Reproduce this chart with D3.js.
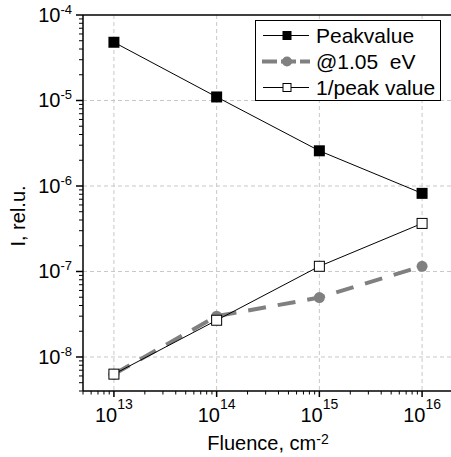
<!DOCTYPE html>
<html>
<head>
<meta charset="utf-8">
<script src="https://cdn.jsdelivr.net/npm/d3@7"></script>
<style>
  html, body { margin: 0; padding: 0; background: #fff; }
  svg { display: block; font-family: "Liberation Sans", Arial, sans-serif; }
</style>
</head>
<body>
<svg id="chart" width="451" height="457"></svg>
<script>
// Fluence values (cm^-2) and measured intensities (rel. u.)
const fluence = [1e13, 1e14, 1e15, 1e16];
const peakValue = [4.8e-5, 1.1e-5, 2.58e-6, 8.2e-7];
const at105eV = [6.3e-9, 3.0e-8, 4.95e-8, 1.15e-7];
const invPeak = [6.3e-9, 2.69e-8, 1.15e-7, 3.65e-7];
const seriesNames = ["Peakvalue", "@1.05  eV", "1/peak value"];
const xTickExps = [13, 14, 15, 16];
const yTickExps = [-8, -7, -6, -5, -4];

const svg = d3.select("#chart");
const W = 451, H = 457;
const plot = { left: 83, top: 15, right: 453, bottom: 391 };

const x = d3.scaleLog().domain([5e12, 2e16]).range([plot.left, plot.right]);
const y = d3.scaleLog().domain([4e-9, 1e-4]).range([plot.bottom, plot.top]);

// grid
const grid = svg.append("g").attr("stroke", "#c8c8c8").attr("stroke-width", 1)
  .attr("stroke-dasharray", "4,3");
xTickExps.forEach(e => {
  grid.append("line").attr("x1", x(Math.pow(10, e))).attr("x2", x(Math.pow(10, e)))
    .attr("y1", plot.top).attr("y2", plot.bottom);
});
yTickExps.filter(e => e < -4).forEach(e => {
  grid.append("line").attr("x1", plot.left).attr("x2", plot.right)
    .attr("y1", y(Math.pow(10, e))).attr("y2", y(Math.pow(10, e)));
});

// minor/major tick values
function logTicks(lo, hi) {
  const out = [];
  for (let e = Math.floor(Math.log10(lo)) - 1; e <= Math.ceil(Math.log10(hi)); e++) {
    for (let m = 1; m <= 9; m++) {
      const v = m * Math.pow(10, e);
      if (v >= lo * 0.999 && v <= hi * 1.001) out.push({ v, major: m === 1 });
    }
  }
  return out;
}

const axes = svg.append("g").attr("stroke", "#000");
// x ticks
logTicks(5e12, 2e16).forEach(t => {
  axes.append("line").attr("x1", x(t.v)).attr("x2", x(t.v))
    .attr("y1", plot.bottom).attr("y2", plot.bottom + (t.major ? 6 : 3.5))
    .attr("stroke-width", t.major ? 1.5 : 1);
});
// y ticks
logTicks(4e-9, 1e-4).forEach(t => {
  axes.append("line").attr("x1", plot.left).attr("x2", plot.left - (t.major ? 7 : 4))
    .attr("y1", y(t.v)).attr("y2", y(t.v))
    .attr("stroke-width", t.major ? 1.5 : 1);
});
// frame lines
axes.append("line").attr("x1", plot.left).attr("x2", plot.left)
  .attr("y1", plot.top).attr("y2", plot.bottom).attr("stroke-width", 1.5);
axes.append("line").attr("x1", plot.left).attr("x2", W)
  .attr("y1", plot.bottom).attr("y2", plot.bottom).attr("stroke-width", 1.5);
axes.append("line").attr("x1", plot.left).attr("x2", W)
  .attr("y1", plot.top).attr("y2", plot.top).attr("stroke-width", 1.5);

// tick labels
const labels = svg.append("g").attr("fill", "#000");
xTickExps.forEach(e => {
  const t = labels.append("text").attr("x", x(Math.pow(10, e))).attr("y", 422)
    .attr("text-anchor", "middle").attr("font-size", 20);
  t.append("tspan").text("10");
  t.append("tspan").attr("dy", -13).attr("font-size", 14).text(e);
});
yTickExps.forEach(e => {
  const t = labels.append("text").attr("x", 72).attr("y", y(Math.pow(10, e)) + 7)
    .attr("text-anchor", "end").attr("font-size", 20);
  t.append("tspan").text("10");
  t.append("tspan").attr("dy", -8).attr("font-size", 13).text(e);
});

// axis titles
const xt = labels.append("text").attr("x", 268).attr("y", 449.5)
  .attr("text-anchor", "middle").attr("font-size", 20);
xt.append("tspan").text("Fluence, cm");
xt.append("tspan").attr("dy", -6).attr("font-size", 14).text("-2");

labels.append("text").attr("transform", "translate(24.5,216) rotate(-90)")
  .attr("text-anchor", "middle").attr("font-size", 20).text("I, rel.u.");

// series
const pts = vals => fluence.map((f, i) => [x(f), y(vals[i])]);
const line = d3.line();
const gray = "#808080";

svg.append("path").attr("d", line(pts(at105eV))).attr("fill", "none")
  .attr("stroke", gray).attr("stroke-width", 4).attr("stroke-dasharray", "18,12");
svg.append("path").attr("d", line(pts(peakValue))).attr("fill", "none")
  .attr("stroke", "#000").attr("stroke-width", 1);
svg.append("path").attr("d", line(pts(invPeak))).attr("fill", "none")
  .attr("stroke", "#000").attr("stroke-width", 1);

svg.append("g").selectAll("circle").data(pts(at105eV)).join("circle")
  .attr("cx", d => d[0]).attr("cy", d => d[1]).attr("r", 5.5).attr("fill", gray);
svg.append("g").selectAll("rect").data(pts(peakValue)).join("rect")
  .attr("x", d => d[0] - 5.5).attr("y", d => d[1] - 5.5)
  .attr("width", 11).attr("height", 11).attr("fill", "#000");
svg.append("g").selectAll("rect").data(pts(invPeak)).join("rect")
  .attr("x", d => d[0] - 5).attr("y", d => d[1] - 5)
  .attr("width", 10).attr("height", 10).attr("fill", "#fff")
  .attr("stroke", "#000").attr("stroke-width", 1);

// legend
const lg = svg.append("g");
lg.append("rect").attr("x", 255.5).attr("y", 20.5).attr("width", 185).attr("height", 80)
  .attr("fill", "#fff").attr("stroke", "#000").attr("stroke-width", 1);
const rows = [35.5, 61.5, 87.5];
const ls = 263, le = 309, lm = 287;
// Peakvalue
lg.append("line").attr("x1", ls).attr("x2", le).attr("y1", rows[0]).attr("y2", rows[0])
  .attr("stroke", "#000").attr("stroke-width", 1);
lg.append("rect").attr("x", lm - 4.5).attr("y", rows[0] - 4.5).attr("width", 9).attr("height", 9).attr("fill", "#000");
// @1.05 eV
lg.append("line").attr("x1", ls - 1).attr("x2", le + 1).attr("y1", rows[1]).attr("y2", rows[1])
  .attr("stroke", gray).attr("stroke-width", 4).attr("stroke-dasharray", "15,4");
lg.append("circle").attr("cx", lm).attr("cy", rows[1]).attr("r", 5).attr("fill", gray);
// 1/peak value
lg.append("line").attr("x1", ls).attr("x2", le).attr("y1", rows[2]).attr("y2", rows[2])
  .attr("stroke", "#000").attr("stroke-width", 1);
lg.append("rect").attr("x", lm - 4).attr("y", rows[2] - 4).attr("width", 8).attr("height", 8)
  .attr("fill", "#fff").attr("stroke", "#000").attr("stroke-width", 1);
seriesNames.forEach((n, i) => {
  lg.append("text").attr("x", 316).attr("y", rows[i] + 7).attr("font-size", 21)
    .attr("xml:space", "preserve").style("white-space", "pre").text(n);
});
</script>
</body>
</html>
